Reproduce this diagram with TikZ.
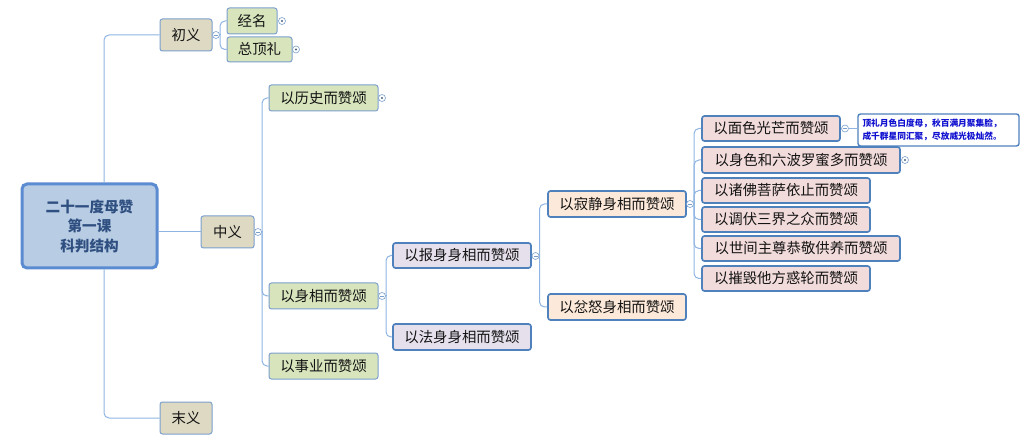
\documentclass[tikz,border=0pt]{standalone}
\usepackage{fontspec}
\newfontfamily\cjk{Noto Sans CJK SC}
\definecolor{rootfill}{HTML}{B8CCE4}
\definecolor{rootbord}{HTML}{5B8BD0}
\definecolor{tanfill}{HTML}{DDD9C3}
\definecolor{greenfill}{HTML}{D7E4BC}
\definecolor{lavfill}{HTML}{E5E0EC}
\definecolor{peachfill}{HTML}{FDE9D9}
\definecolor{pinkfill}{HTML}{F2DCDB}
\definecolor{thinbord}{HTML}{7BA0CD}
\definecolor{thickbord}{HTML}{4F81BD}
\definecolor{conncol}{HTML}{8DB4E2}
\definecolor{txt}{HTML}{141414}
\definecolor{roottxt}{HTML}{2F4F80}
\definecolor{notetxt}{HTML}{1010D0}
\tikzset{
  box/.style={draw=thinbord, rounded corners=2.5pt, line width=1pt, inner sep=0pt,
    font=\cjk\fontsize{14.4}{17}\selectfont, text=txt},
  tanbox/.style={box, fill=tanfill},
  greenbox/.style={box, fill=greenfill},
  lavbox/.style={box, fill=lavfill, draw=thickbord, line width=1.7pt},
  peachbox/.style={box, fill=peachfill, draw=thickbord, line width=1.7pt},
  pinkbox/.style={box, fill=pinkfill, draw=thickbord, line width=1.7pt},
  notebox/.style={box, fill=white, draw=thickbord, line width=1.4pt, align=left,
    font=\cjk\bfseries\fontsize{8.7}{13}\selectfont, text=notetxt},
  rootbox/.style={draw=rootbord, fill=rootfill, rounded corners=5pt, line width=3pt,
    inner sep=0pt, align=center, font=\cjk\bfseries\fontsize{14.6}{19.5}\selectfont, text=roottxt},
  conn/.style={draw=conncol, line width=1pt, rounded corners=5pt},
  minusc/.style={circle, draw=thinbord, fill=white, line width=0.6pt, minimum size=7pt, inner sep=0pt,
    path picture={\draw[thinbord, line width=0.6pt] ([xshift=-2pt]path picture bounding box.center) -- ([xshift=2pt]path picture bounding box.center);}},
  plusc/.style={circle, draw=thinbord, fill=white, line width=0.6pt, minimum size=7pt, inner sep=0pt,
    path picture={\fill[thinbord!60!black] (path picture bounding box.center) circle (1.2pt);}},
}
\begin{document}
\begin{tikzpicture}[x=1pt, y=-1pt]
\useasboundingbox (0,0) rectangle (1030,443);
% nodes
\node[rootbox, minimum width=135pt, minimum height=84pt] (root) at (89.5,226) {二十一度母赞\\第一课\\科判结构};
\node[tanbox, minimum width=52pt, minimum height=32pt] (chuyi) at (186,35) {初义};
\node[tanbox, minimum width=53pt, minimum height=32pt] (zhongyi) at (227.5,232) {中义};
\node[tanbox, minimum width=52pt, minimum height=32pt] (moyi) at (186,418) {末义};
\node[greenbox, minimum width=50pt, minimum height=26pt] (jingming) at (252,21) {经名};
\node[greenbox, minimum width=65pt, minimum height=25pt] (zongdingli) at (259.5,49.5) {总顶礼};
\node[greenbox, minimum width=109pt, minimum height=26pt] (lishi) at (323.5,98) {以历史而赞颂};
\node[greenbox, minimum width=109pt, minimum height=26pt] (shenxiang) at (323.5,296) {以身相而赞颂};
\node[greenbox, minimum width=109pt, minimum height=26pt] (shiye) at (323.5,366) {以事业而赞颂};
\node[lavbox, minimum width=138pt, minimum height=25pt] (baoshen) at (462,255.5) {以报身身相而赞颂};
\node[lavbox, minimum width=138pt, minimum height=26pt] (fashen) at (462,337) {以法身身相而赞颂};
\node[peachbox, minimum width=138pt, minimum height=26pt] (jijing) at (617,204) {以寂静身相而赞颂};
\node[peachbox, minimum width=138pt, minimum height=26pt] (fennu) at (617,307) {以忿怒身相而赞颂};
\node[pinkbox, minimum width=138pt, minimum height=25pt] (mianse) at (771,128.5) {以面色光芒而赞颂};
\node[pinkbox, minimum width=198pt, minimum height=26pt] (shense) at (801,160) {以身色和六波罗蜜多而赞颂};
\node[pinkbox, minimum width=168pt, minimum height=25pt] (zhufo) at (786,190.5) {以诸佛菩萨依止而赞颂};
\node[pinkbox, minimum width=168pt, minimum height=25pt] (tiaofu) at (786,219.5) {以调伏三界之众而赞颂};
\node[pinkbox, minimum width=198pt, minimum height=25pt] (shijian) at (801,248.5) {以世间主尊恭敬供养而赞颂};
\node[pinkbox, minimum width=168pt, minimum height=25pt] (cuihui) at (786,278.5) {以摧毁他方惑轮而赞颂};
\node[notebox, minimum width=161pt, minimum height=32pt, text width=152pt] (note) at (938.5,130) {顶礼月色白度母，秋百满月聚集脸，\\成千群星同汇聚，尽放威光极灿然。};
% collapse / expand markers
\node[minusc] (m1) at (216,35) {};
\node[minusc] (m2) at (258,232) {};
\node[minusc] (m3) at (382,296) {};
\node[minusc] (m4) at (535.5,256) {};
\node[minusc] (m5) at (690,204) {};
\node[minusc] (m6) at (845,128.5) {};
\node[plusc] (p1) at (282,21) {};
\node[plusc] (p2) at (296,49.5) {};
\node[plusc] (p3) at (382,98) {};
\node[plusc] (p4) at (905,160) {};
% bus coordinates
\coordinate (trunk) at (104,226);
\coordinate (b1) at (220,35);
\coordinate (b2) at (262,232);
\coordinate (b3) at (386,296);
\coordinate (b4) at (539.5,256);
\coordinate (b5) at (694,204);
% root connectors
\draw[conn] (root.north -| trunk) |- (chuyi.west);
\draw[conn] (root.south -| trunk) |- (moyi.west);
\draw[conn] (root.east |- zhongyi) -- (zhongyi.west);
% 初义
\draw[conn] (m1.east) -- (b1);
\draw[conn] (b1) |- (jingming.west);
\draw[conn] (b1) |- (zongdingli.west);
% 中义
\draw[conn] (m2.east) -- (b2);
\draw[conn] (b2) |- (lishi.west);
\draw[conn] (b2) |- (shenxiang.west);
\draw[conn] (b2) |- (shiye.west);
% 以身相
\draw[conn] (m3.east) -- (b3);
\draw[conn] (b3) |- (baoshen.west);
\draw[conn] (b3) |- (fashen.west);
% 以报身
\draw[conn] (m4.east) -- (b4);
\draw[conn] (b4) |- (jijing.west);
\draw[conn] (b4) |- (fennu.west);
% 以寂静
\draw[conn] (m5.east) -- (b5);
\draw[conn] (b5) |- (mianse.west);
\draw[conn] (b5) |- (shense.west);
\draw[conn] (b5) |- (zhufo.west);
\draw[conn] (b5) |- (tiaofu.west);
\draw[conn] (b5) |- (shijian.west);
\draw[conn] (b5) |- (cuihui.west);
% note
\draw[conn] (m6.east) -- (note.west |- m6);
\end{tikzpicture}
\end{document}
